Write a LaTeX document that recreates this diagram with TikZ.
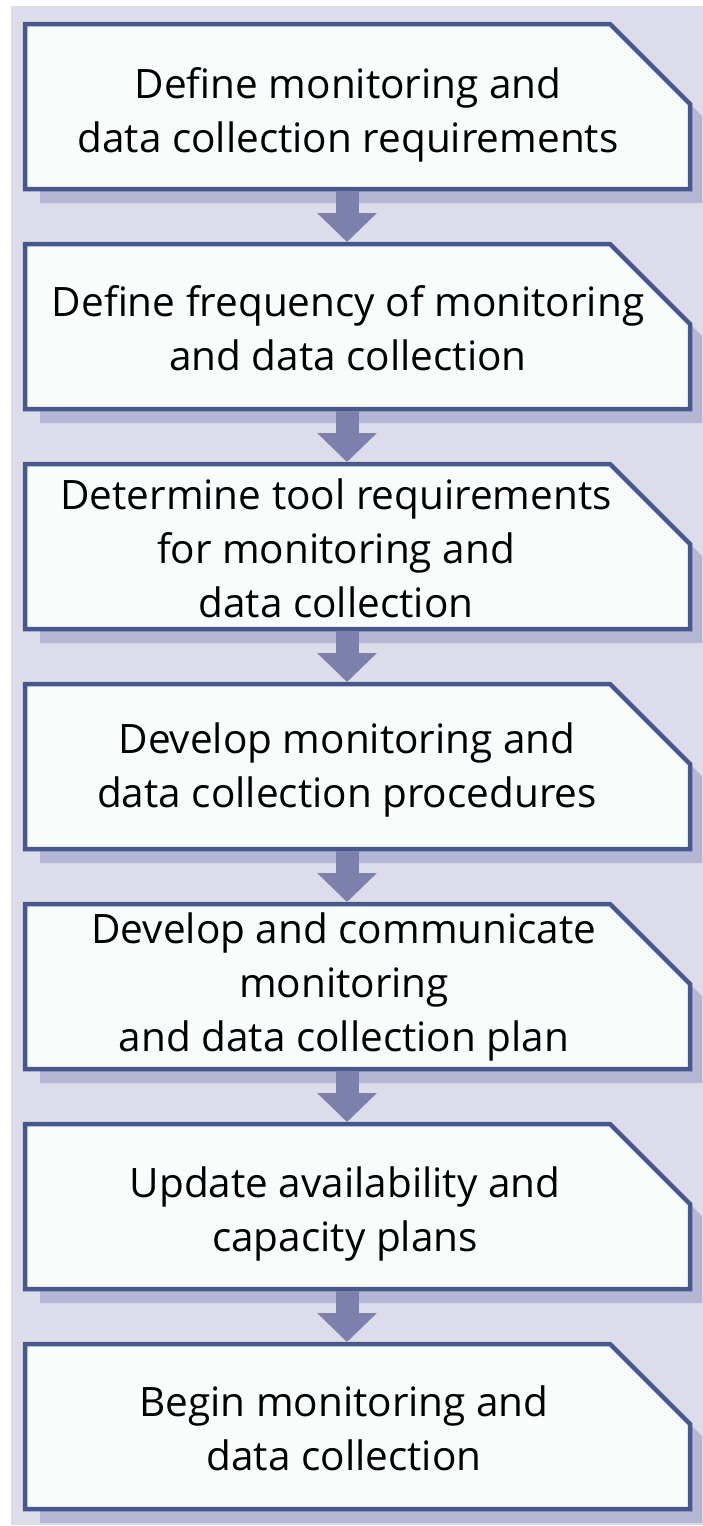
\documentclass[tikz,border=0pt]{standalone}
\usepackage{fontspec}
\setmainfont{Open Sans}
\usetikzlibrary{arrows.meta}
\definecolor{bgc}{HTML}{DCDCEB}
\definecolor{bordc}{HTML}{48588F}
\definecolor{shadc}{HTML}{B4B6D4}
\definecolor{arrc}{HTML}{7C80AA}
\definecolor{boxc}{HTML}{F8FCFA}
\tikzset{
  boxtext/.style={align=center, font=\fontsize{40.5}{54}\selectfont, text=black, inner sep=0pt},
  flowarrow/.style={arrc, line width=23pt, -{Triangle[width=58pt,length=29pt]}}
}
\newcommand\flowbox[5]{%
  \fill[shadc] (40,#2+12) -- (620,#2+12) -- (702,#2+94) -- (702,#2+181) -- (40,#2+181) -- cycle;
  \draw[bordc, line width=4.5pt, fill=boxc, line join=miter] (25,#2+2) -- (610,#2+2) -- (690,#2+82) -- (690,#2+167) -- (25,#2+167) -- cycle;
  \node[boxtext] (#1) at (#3,#2+#4) {#5};
  \coordinate (#1top) at (347,#2);
  \coordinate (#1bot) at (347,#2+169);
}
\begin{document}
\begin{tikzpicture}[x=1pt,y=-1pt]
\useasboundingbox (0,0) rectangle (703,1526);
\fill[white] (0,0) rectangle (703,1526);
\fill[bgc] (11,6) rectangle (703,1525);
\flowbox{b1}{22}{348}{93}{Define monitoring and\\data collection requirements}
\flowbox{b2}{242}{348}{86}{Define frequency of monitoring\\and data collection}
\flowbox{b3}{462}{336}{86}{Determine tool requirements\\for monitoring and\\data collection}
\flowbox{b4}{682}{347}{88}{Develop monitoring and\\data collection procedures}
\flowbox{b5}{902}{344}{85}{Develop and communicate\\monitoring\\and data collection plan}
\flowbox{b6}{1122}{345}{92}{Update availability and\\capacity plans}
\flowbox{b7}{1342}{344}{86}{Begin monitoring and\\data collection}
\draw[flowarrow] (b1bot) -- (b2top);
\draw[flowarrow] (b2bot) -- (b3top);
\draw[flowarrow] (b3bot) -- (b4top);
\draw[flowarrow] (b4bot) -- (b5top);
\draw[flowarrow] (b5bot) -- (b6top);
\draw[flowarrow] (b6bot) -- (b7top);
\end{tikzpicture}
\end{document}
